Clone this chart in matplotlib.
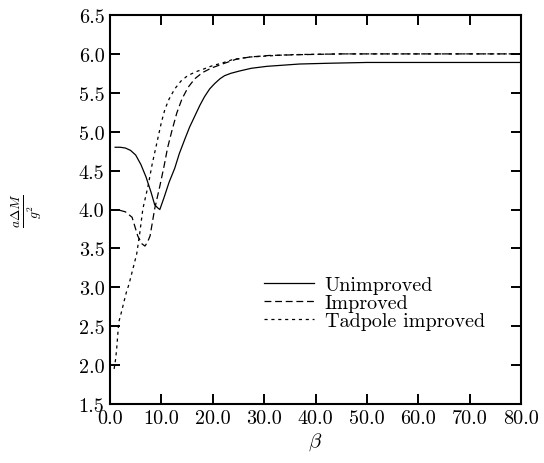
import matplotlib
matplotlib.use("Agg")
import matplotlib.pyplot as plt
from matplotlib.ticker import FormatStrFormatter, MultipleLocator

plt.rcParams["font.family"] = "cmr10"
plt.rcParams["mathtext.fontset"] = "cm"
plt.rcParams["axes.formatter.use_mathtext"] = True

# mass gap vs beta, three actions
beta_unimp = [1.0, 2.0, 3.0, 4.0, 5.0, 6.0, 7.0, 8.0, 8.7, 9.3, 9.7, 10.5, 11.5,
              12.6, 13.5, 14.6, 15.5, 16.5, 17.5, 18.4, 19.4, 20.4, 21.4, 22.3,
              23.5, 25.2, 27.5, 30.5, 36.9, 42.7, 50.0, 60.0, 70.0, 80.0]
gap_unimp = [4.80, 4.80, 4.79, 4.76, 4.70, 4.58, 4.42, 4.22, 4.06, 4.02, 4.00, 4.15,
             4.35, 4.53, 4.72, 4.91, 5.06, 5.20, 5.34, 5.45, 5.55, 5.62, 5.68, 5.72,
             5.75, 5.78, 5.815, 5.84, 5.87, 5.88, 5.89, 5.89, 5.89, 5.89]

beta_imp = [1.9, 3.0, 4.3, 5.4, 6.2, 6.8, 7.3, 7.8, 8.7, 9.7, 10.5, 11.2, 12.0,
            13.0, 14.0, 15.2, 16.5, 18.0, 19.8, 22.3, 24.5, 27.2, 31.0, 36.9,
            45.0, 60.0, 80.0]
gap_imp = [3.99, 3.97, 3.90, 3.66, 3.56, 3.53, 3.58, 3.66, 4.01, 4.30, 4.55, 4.79,
           5.00, 5.24, 5.42, 5.57, 5.68, 5.76, 5.82, 5.88, 5.93, 5.96, 5.98, 5.99,
           6.00, 6.00, 6.00]

beta_tad = [0.8, 1.1, 1.3, 1.5, 1.7, 2.3, 2.7, 3.2, 3.7, 4.2, 4.7, 5.2, 5.8, 6.4,
            7.4, 8.2, 9.3, 10.0, 10.7, 11.5, 12.6, 13.8, 15.1, 16.7, 18.4, 20.0,
            21.7, 24.0, 27.2, 35.0, 45.0, 60.0, 80.0]
gap_tad = [1.95, 2.08, 2.21, 2.38, 2.55, 2.70, 2.81, 2.94, 3.04, 3.17, 3.30, 3.43,
           3.70, 4.01, 4.30, 4.58, 4.91, 5.12, 5.29, 5.42, 5.55, 5.65, 5.72, 5.77,
           5.81, 5.85, 5.88, 5.93, 5.96, 5.99, 6.00, 6.00, 6.00]

fig = plt.figure(figsize=(5.44, 4.64), dpi=100)
ax = fig.add_axes([110 / 544, 1 - 405 / 464, 411 / 544, 389 / 464])

ax.plot(beta_unimp, gap_unimp, color="black", lw=0.9, label="Unimproved")
ax.plot(beta_imp, gap_imp, color="black", lw=0.9, dashes=(5.5, 3), label="Improved")
ax.plot(beta_tad, gap_tad, color="black", lw=0.9, dashes=(2.5, 3),
        label="Tadpole improved")

ax.set_xlim(0, 80)
ax.set_ylim(1.5, 6.5)
ax.xaxis.set_major_locator(MultipleLocator(10))
ax.yaxis.set_major_locator(MultipleLocator(0.5))
ax.xaxis.set_major_formatter(FormatStrFormatter("%.1f"))
ax.yaxis.set_major_formatter(FormatStrFormatter("%.1f"))
ax.tick_params(direction="in", length=7.5, width=1.4, labelsize=14.5,
               top=True, right=True, pad=4)
for sp in ax.spines.values():
    sp.set_linewidth(1.5)

ax.set_xlabel(r"$\beta$", fontsize=15, labelpad=2)
ax.set_ylabel(r"$\frac{a\Delta M}{g^2}$", fontsize=14, rotation=90, labelpad=0)
ax.yaxis.set_label_coords(-0.158, 0.5)

ax.legend(loc="upper left", bbox_to_anchor=(0.375, 0.33), frameon=False,
          fontsize=14.5, handlelength=2.5, handletextpad=0.5, labelspacing=0.0,
          borderpad=0, borderaxespad=0)

fig.savefig("out.png", dpi=100)
